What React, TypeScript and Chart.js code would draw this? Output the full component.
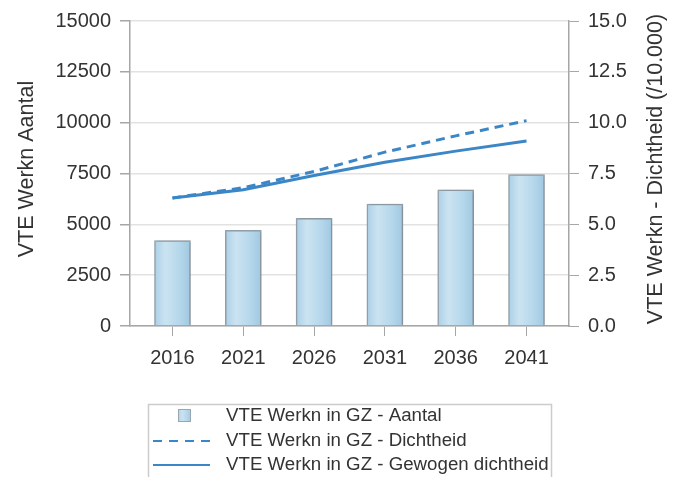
import React, { useEffect, useRef } from "react";
import { Chart, registerables } from "chart.js";

Chart.register(...registerables);

const years = ["2016", "2021", "2026", "2031", "2036", "2041"];
const aantal = [4200, 4700, 5300, 6000, 6700, 7450];
const dichtheid = [6.3, 6.8, 7.6, 8.55, 9.35, 10.1];
const gewogen = [6.3, 6.7, 7.4, 8.05, 8.6, 9.1];

const leftTicks = [0, 2500, 5000, 7500, 10000, 12500, 15000];
const rightTicks = [0, 2.5, 5, 7.5, 10, 12.5, 15];

const seriesNames = [
  "VTE Werkn in GZ - Aantal",
  "VTE Werkn in GZ - Dichtheid",
  "VTE Werkn in GZ - Gewogen dichtheid",
];
const leftTitle = "VTE Werkn Aantal";
const rightTitle = "VTE Werkn - Dichtheid (/10.000)";

const FONT = "'Liberation Sans', Arial, sans-serif";
const TEXT = "#333333";
const LINE = "#3b86c6";
const AXIS = "#a6a6a6";
const GRID = "#e2e2e2";

function barGradient(ctx: CanvasRenderingContext2D, x0: number, x1: number) {
  const g = ctx.createLinearGradient(x0, 0, x1, 0);
  g.addColorStop(0, "#abd0e7");
  g.addColorStop(0.3, "#cbe3f1");
  g.addColorStop(0.7, "#b5d7eb");
  g.addColorStop(1, "#a0c8e1");
  return g;
}

const overlayPlugin = {
  id: "overlay",
  beforeDatasetDraw(chart: any, args: any) {
    if (args.meta.type === "bar") {
      const c = chart.ctx;
      c.save();
      c.shadowColor = "rgba(0,0,0,0.22)";
      c.shadowBlur = 4;
      c.shadowOffsetX = 1;
      c.shadowOffsetY = 0;
    }
  },
  afterDatasetDraw(chart: any, args: any) {
    if (args.meta.type === "bar") chart.ctx.restore();
  },
  afterDraw(chart: any) {
    const c: CanvasRenderingContext2D = chart.ctx;
    const cy = 169;
    c.save();
    c.font = `21.5px ${FONT}`;
    c.fillStyle = TEXT;
    c.textAlign = "center";
    c.textBaseline = "alphabetic";
    c.save();
    c.translate(33, cy);
    c.rotate(-Math.PI / 2);
    c.fillText(leftTitle, 0, 0);
    c.restore();
    c.save();
    c.translate(662, cy);
    c.rotate(-Math.PI / 2);
    c.fillText(rightTitle, 0, 0);
    c.restore();

    // legend
    c.strokeStyle = "#cccccc";
    c.lineWidth = 1.5;
    c.strokeRect(148.5, 404.5, 403, 90);
    const rows = [416, 441, 465];
    c.font = `18.7px ${FONT}`;
    c.textAlign = "left";
    c.textBaseline = "middle";
    c.fillStyle = barGradient(c, 178, 191);
    c.fillRect(178, 409, 13, 13);
    c.strokeStyle = "#9aa7b0";
    c.lineWidth = 1;
    c.strokeRect(178.5, 409.5, 12, 12);
    c.strokeStyle = LINE;
    c.lineWidth = 2;
    c.setLineDash([9, 7]);
    c.beginPath();
    c.moveTo(153, rows[1]);
    c.lineTo(210, rows[1]);
    c.stroke();
    c.setLineDash([]);
    c.beginPath();
    c.moveTo(153, rows[2]);
    c.lineTo(210, rows[2]);
    c.stroke();
    c.fillStyle = TEXT;
    seriesNames.forEach((n, i) => c.fillText(n, 226, rows[i]));
    c.restore();
  },
};

export default function App() {
  const ref = useRef<HTMLCanvasElement | null>(null);
  useEffect(() => {
    if (!ref.current) return;
    const chart = new Chart(ref.current, {
      type: "bar",
      data: {
        datasets: [
          {
            type: "bar",
            label: seriesNames[0],
            data: aantal.map((v, i) => ({ x: i, y: v })),
            yAxisID: "y",
            order: 3,
            barThickness: 36,
            borderColor: "#9aa7b0",
            borderWidth: 1.5,
            backgroundColor: (ctx: any) => {
              const ch = ctx.chart;
              if (ctx.type !== "data" || !ch.scales || !ch.scales.x) return "#b4d6eb";
              const cx = ch.scales.x.getPixelForValue(ctx.dataIndex);
              if (!Number.isFinite(cx)) return "#b4d6eb";
              return barGradient(ch.ctx, cx - 18, cx + 18);
            },
          },
          {
            type: "line",
            label: seriesNames[1],
            data: dichtheid.map((v, i) => ({ x: i, y: v })),
            yAxisID: "y1",
            order: 1,
            borderColor: LINE,
            borderWidth: 3,
            borderDash: [9, 6],
            pointRadius: 0,
            tension: 0,
            fill: false,
          },
          {
            type: "line",
            label: seriesNames[2],
            data: gewogen.map((v, i) => ({ x: i, y: v })),
            yAxisID: "y1",
            order: 2,
            borderColor: LINE,
            borderWidth: 3,
            pointRadius: 0,
            tension: 0,
            fill: false,
          },
        ] as any,
      },
      options: {
        responsive: false,
        animation: false,
        layout: { padding: { top: 18, left: 0, right: 0, bottom: 0 } },
        plugins: {
          legend: { display: false },
          tooltip: { enabled: false },
        },
        scales: {
          x: {
            type: "linear",
            min: -0.6,
            max: 5.6,
            offset: false,
            afterFit: (s: any) => {
              s.height = 151;
            },
            afterBuildTicks: (s: any) => {
              s.ticks = years.map((_, i) => ({ value: i }));
            },
            ticks: {
              includeBounds: false,
              stepSize: 1,
              autoSkip: false,
              maxRotation: 0,
              padding: 10,
              color: TEXT,
              font: { family: FONT, size: 20 },
              callback: (v: any) => years[Math.round(Number(v))] ?? "",
            },
            grid: {
              offset: false,
              drawOnChartArea: false,
              drawTicks: true,
              tickLength: 10,
              tickColor: AXIS,
            },
            border: { color: AXIS, width: 1.5 },
          },
          y: {
            type: "linear",
            position: "left",
            min: 0,
            max: 15000,
            afterFit: (s: any) => {
              s.width = 130;
            },
            afterBuildTicks: (s: any) => {
              s.ticks = leftTicks.map((v) => ({ value: v }));
            },
            ticks: {
              padding: 9,
              color: TEXT,
              font: { family: FONT, size: 20 },
              callback: (v: any) => String(v),
            },
            grid: {
              color: GRID,
              lineWidth: 1.5,
              tickLength: 10,
              tickColor: AXIS,
            },
            border: { color: AXIS, width: 1.5 },
          },
          y1: {
            type: "linear",
            position: "right",
            min: 0,
            max: 15,
            afterFit: (s: any) => {
              s.width = 111;
            },
            afterBuildTicks: (s: any) => {
              s.ticks = rightTicks.map((v) => ({ value: v }));
            },
            ticks: {
              padding: 9,
              color: TEXT,
              font: { family: FONT, size: 20 },
              callback: (v: any) => Number(v).toFixed(1),
            },
            grid: {
              drawOnChartArea: false,
              tickLength: 10,
              tickColor: AXIS,
            },
            border: { color: AXIS, width: 1.5 },
          },
        },
      } as any,
      plugins: [overlayPlugin],
    });
    return () => chart.destroy();
  }, []);
  return (
    <div style={{ position: "fixed", left: 0, top: 0, width: 680, height: 477, background: "#fff" }}>
      <canvas ref={ref} width={680} height={477} style={{ width: 680, height: 477, display: "block" }} />
    </div>
  );
}
